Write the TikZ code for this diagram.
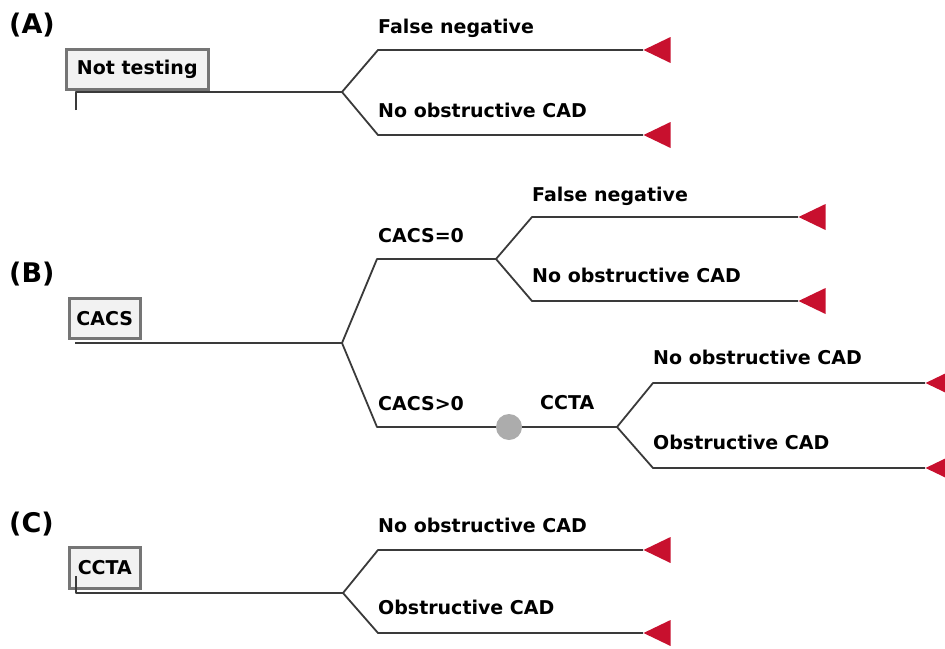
\documentclass[tikz,border=0pt]{standalone}
\usepackage{fontspec}
\setmainfont{DejaVu Sans}
\usetikzlibrary{shapes.geometric,positioning}
\definecolor{termred}{HTML}{C8102E}
\definecolor{boxgray}{HTML}{757575}
\definecolor{boxbg}{HTML}{F2F2F2}
\definecolor{linegray}{HTML}{3A3A3A}

\begin{document}
\begin{tikzpicture}[x=1pt, y=-1pt,
  box/.style={draw=boxgray, line width=2.6pt, fill=boxbg, inner sep=0pt, anchor=north west, font=\fontsize{19}{22}\bfseries},
  lbl/.style={anchor=base west, inner sep=0pt, font=\fontsize{19}{22}\bfseries},
  panel/.style={anchor=base west, inner sep=0pt, font=\fontsize{27}{30}\bfseries},
  term/.style={isosceles triangle, shape border rotate=180, isosceles triangle stretches, minimum width=26, minimum height=27, inner sep=0pt, fill=termred, anchor=apex},
  chance/.style={circle, fill=gray!65, minimum size=26, inner sep=0pt},
  br/.style={draw=linegray, line width=1.8pt, line join=round}]
  \useasboundingbox (0,0) rectangle (945,648);

  % (A) not testing
  \node[panel] (pa) at (9,33) {(A)};
  \node[box, minimum width=142, minimum height=40] (nt) at (65,48) {Not testing};
  \coordinate (a0) at (342,92);
  \coordinate (a1) at (378,50);
  \coordinate (a2) at (378,135);
  \node[term] (ta1) at (643,50) {};
  \node[term] (ta2) at (643,135) {};
  \draw[br] (76,110) -- (76,92) -- (a0);
  \draw[br] (a0) -- (a1) -- (ta1.apex);
  \draw[br] (a0) -- (a2) -- (ta2.apex);
  \node[lbl] (la1) at (378,33) {False negative};
  \node[lbl] (la2) at (378,117) {No obstructive CAD};

  % (B) CACS
  \node[panel] (pb) at (9,282) {(B)};
  \node[box, minimum width=71, minimum height=40] (cacs) at (68,297) {CACS};
  \coordinate (b0) at (342,343);
  \coordinate (b1) at (377,259);
  \coordinate (b2) at (377,427);
  \coordinate (c0) at (496,259);
  \coordinate (c1) at (532,217);
  \coordinate (c2) at (532,301);
  \node[chance] (ch) at (509,427) {};
  \coordinate (d0) at (617,427);
  \coordinate (d1) at (653,383);
  \coordinate (d2) at (653,468);
  \node[term] (tc1) at (798,217) {};
  \node[term] (tc2) at (798,301) {};
  \node[term] (td1) at (925,383) {};
  \node[term] (td2) at (925,468) {};
  \draw[br] (75,343) -- (b0);
  \draw[br] (b0) -- (b1) -- (c0);
  \draw[br] (b0) -- (b2) -- (ch.west);
  \draw[br] (c0) -- (c1) -- (tc1.apex);
  \draw[br] (c0) -- (c2) -- (tc2.apex);
  \draw[br] (ch.east) -- (d0);
  \draw[br] (d0) -- (d1) -- (td1.apex);
  \draw[br] (d0) -- (d2) -- (td2.apex);
  \node[lbl] (lb1) at (378,242) {CACS=0};
  \node[lbl] (lb2) at (378,410) {CACS>0};
  \node[lbl] (lc1) at (532,201) {False negative};
  \node[lbl] (lc2) at (532,282) {No obstructive CAD};
  \node[lbl] (lct) at (540,409) {CCTA};
  \node[lbl] (ld1) at (653,364) {No obstructive CAD};
  \node[lbl] (ld2) at (653,449) {Obstructive CAD};

  % (C) CCTA
  \node[panel] (pc) at (9,532) {(C)};
  \node[box, minimum width=71, minimum height=41] (ccta) at (68,546) {CCTA};
  \coordinate (e0) at (343,593);
  \coordinate (e1) at (378,550);
  \coordinate (e2) at (378,633);
  \node[term] (te1) at (643,550) {};
  \node[term] (te2) at (643,633) {};
  \draw[br] (76,576) -- (76,593) -- (e0);
  \draw[br] (e0) -- (e1) -- (te1.apex);
  \draw[br] (e0) -- (e2) -- (te2.apex);
  \node[lbl] (le1) at (378,532) {No obstructive CAD};
  \node[lbl] (le2) at (378,614) {Obstructive CAD};
\end{tikzpicture}
\end{document}
